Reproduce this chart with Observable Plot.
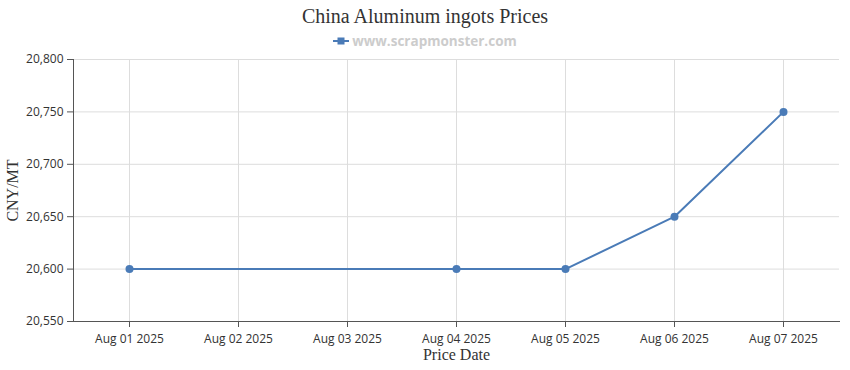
<!DOCTYPE html>
<html>
<head>
<meta charset="utf-8">
<script src="https://cdn.jsdelivr.net/npm/d3@7"></script>
<script src="https://cdn.jsdelivr.net/npm/@observablehq/plot@0.6"></script>
<style>
  body { margin: 0; background: #fff; }
  #title { height: 32px; line-height: 32px; text-align: center; font-family: "Liberation Serif", "DejaVu Serif", serif; font-size: 20px; color: #333; }
  #legend { height: 18px; line-height: 18px; text-align: center; font-family: "Open Sans", "DejaVu Sans", sans-serif; font-size: 13.5px; font-weight: bold; color: #ccc; }
  #legend svg { vertical-align: middle; margin-right: 3px; position: relative; top: -1px; }
</style>
</head>
<body>
<div id="title">China Aluminum ingots Prices</div>
<div id="legend"><svg width="16" height="10"><line x1="0" y1="5" x2="16" y2="5" stroke="#4a7bb7" stroke-width="2"/><rect x="4.5" y="1.5" width="7" height="7" fill="#4a7bb7"/></svg>www.scrapmonster.com</div>
<div id="chart"></div>
<script>
const categories = ["Aug 01 2025", "Aug 02 2025", "Aug 03 2025", "Aug 04 2025", "Aug 05 2025", "Aug 06 2025", "Aug 07 2025"];
const priceDates = ["Aug 01 2025", "Aug 04 2025", "Aug 05 2025", "Aug 06 2025", "Aug 07 2025"];
const prices = [20600, 20600, 20600, 20650, 20750];
const yTicks = [20550, 20600, 20650, 20700, 20750, 20800];

const data = priceDates.map((d, i) => ({date: d, price: prices[i]}));
const color = "#4a7bb7";
const tickFont = "'Open Sans', 'DejaVu Sans', sans-serif";
const serif = "'Liberation Serif', 'DejaVu Serif', serif";

const chart = Plot.plot({
  width: 850,
  height: 320,
  marginLeft: 73,
  marginRight: 11,
  marginTop: 9,
  marginBottom: 49,
  style: {fontFamily: tickFont, fontSize: "12px", color: "#333", background: "#fff"},
  x: {type: "point", domain: categories, padding: 0.5},
  y: {domain: [20550, 20800]},
  marks: [
    Plot.gridX(categories, {stroke: "#ddd", strokeOpacity: 1}),
    Plot.gridY(yTicks, {stroke: "#ddd", strokeOpacity: 1}),
    Plot.frame({anchor: "left", stroke: "#555"}),
    Plot.frame({anchor: "bottom", stroke: "#555"}),
    Plot.axisX(categories, {tickSize: 6, tickPadding: 7, stroke: "#555", fill: "#333", fontSize: 12, label: null}),
    Plot.axisY(yTicks, {tickSize: 6, tickPadding: 4, stroke: "#555", fill: "#333", fontSize: 12, tickFormat: d3.format(","), label: null}),
    Plot.line(data, {x: "date", y: "price", stroke: color, strokeWidth: 2}),
    Plot.dot(data, {x: "date", y: "price", fill: color, r: 4}),
    Plot.text(["Price Date"], {frameAnchor: "bottom", dy: 38, fontFamily: serif, fontSize: 16, fill: "#333"}),
    Plot.text(["CNY/MT"], {frameAnchor: "left", textAnchor: "middle", rotate: -90, dx: -61, fontFamily: serif, fontSize: 16, fill: "#333"})
  ]
});
document.getElementById("chart").append(chart);
</script>
</body>
</html>
